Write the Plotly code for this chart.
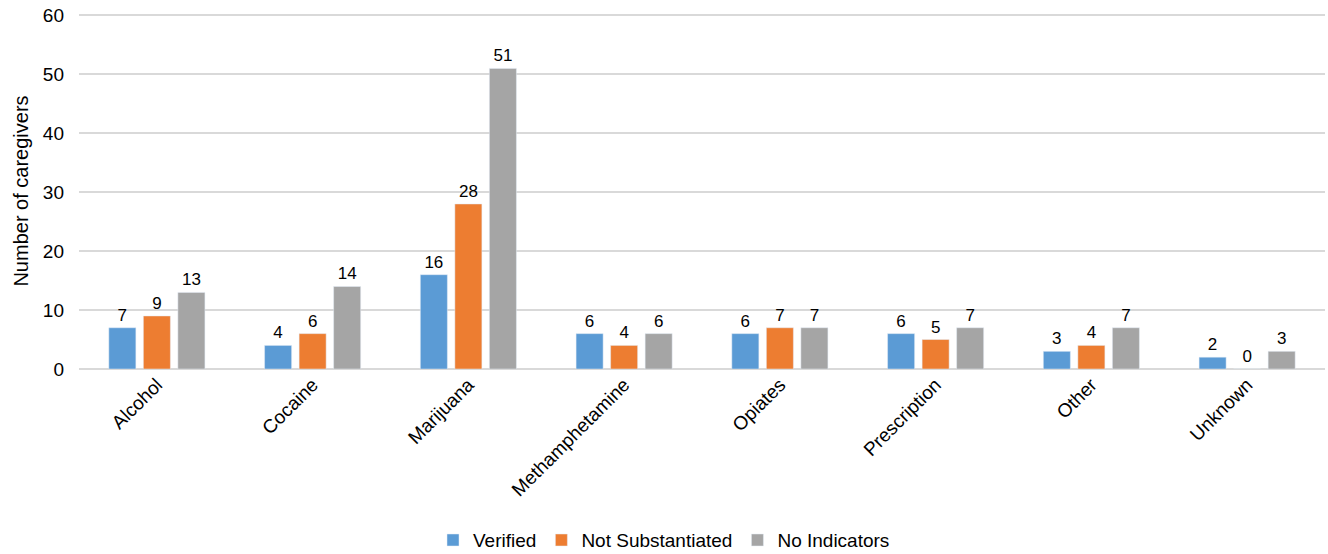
import plotly.graph_objects as go

substances = ["Alcohol", "Cocaine", "Marijuana", "Methamphetamine",
              "Opiates", "Prescription", "Other", "Unknown"]
verified = [7, 4, 16, 6, 6, 6, 3, 2]
not_substantiated = [9, 6, 28, 4, 7, 5, 4, 0]
no_indicators = [13, 14, 51, 6, 7, 7, 7, 3]

series = [
    ("Verified", verified, "#5B9BD5"),
    ("Not Substantiated", not_substantiated, "#ED7D31"),
    ("No Indicators", no_indicators, "#A5A5A5"),
]

fig = go.Figure()
for name, vals, color in series:
    fig.add_trace(go.Bar(
        x=substances, y=vals, name=name, marker_color=color,
        text=vals, textposition="outside", cliponaxis=False,
        textfont=dict(size=17, color="#000000"),
    ))

fig.update_layout(
    barmode="group",
    bargap=0.335,
    bargroupgap=0.217,
    width=1328, height=554,
    margin=dict(l=79, r=3, t=13, b=185),
    plot_bgcolor="white", paper_bgcolor="white",
    font=dict(family="Liberation Sans, Arial", size=19, color="#000000"),
    showlegend=True,
    legend=dict(orientation="h", x=0.5, xref="container", xanchor="center",
                yref="container", y=0.025, yanchor="middle",
                font=dict(size=19), itemwidth=30, tracegroupgap=0),
)
# top slightly above 60 so the 60 gridline is not dropped at the edge
fig.update_yaxes(
    range=[0, 60.4], tickvals=[0, 10, 20, 30, 40, 50, 60],
    showgrid=True, gridcolor="#D9D9D9", gridwidth=1.5,
    zeroline=True, zerolinecolor="#D9D9D9", zerolinewidth=1.5,
    title=dict(text="Number of caregivers", font=dict(size=20), standoff=8),
    tickfont=dict(size=19), ticklabelstandoff=14, automargin=False,
)
fig.update_xaxes(tickangle=-45, tickfont=dict(size=19), showline=False,
                 automargin=False)

fig.write_html("out.html", config={"displayModeBar": False},
               post_script="document.body.style.margin='0';")
